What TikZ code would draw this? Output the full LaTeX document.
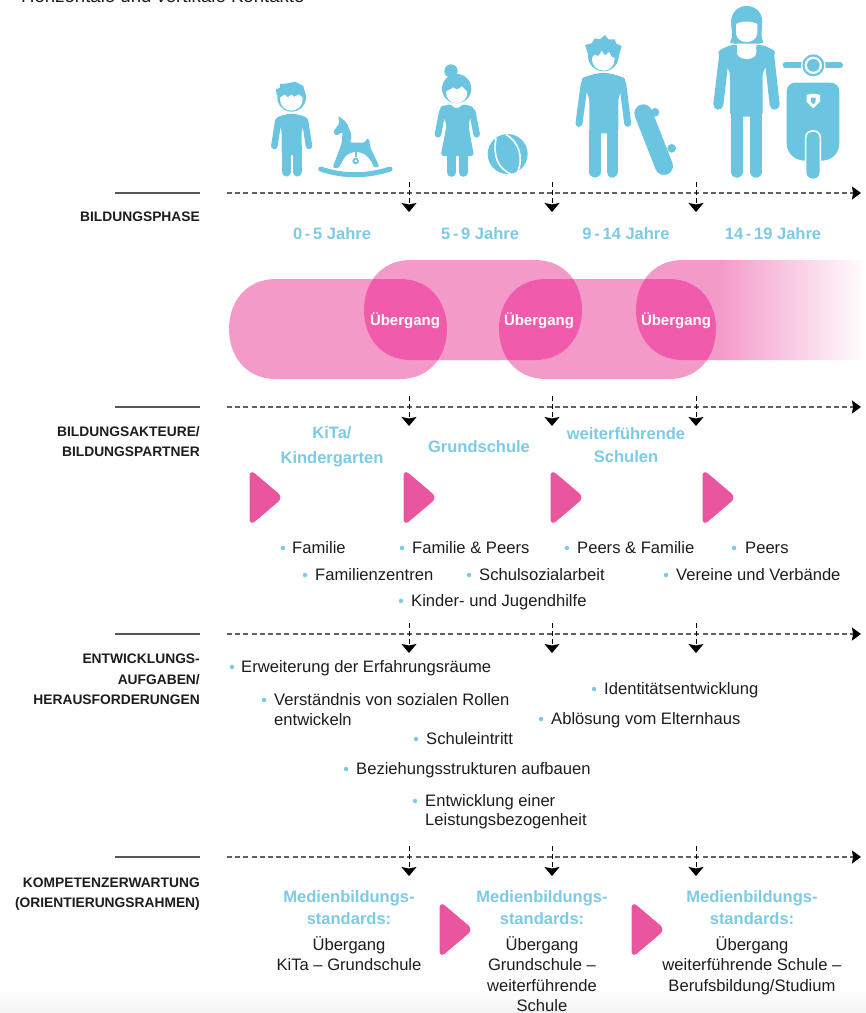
\documentclass[tikz,border=0pt]{standalone}
\usepackage{fontspec}
\setmainfont{Liberation Sans}
\usetikzlibrary{arrows.meta}
\definecolor{ink}{HTML}{1D1D1B}
\definecolor{skyb}{HTML}{6BC5E1}
\definecolor{skyt}{HTML}{7CCBE6}
\definecolor{lp}{HTML}{F49AC9}
\definecolor{dp}{HTML}{F05BAB}
\definecolor{ap}{HTML}{EA559F}
\tikzset{
  x=1pt,y=-1pt,
  txt/.style={inner sep=0pt,yshift=-2.5pt,text=ink,font=\fontsize{16.6}{18}\selectfont},
  lab/.style={inner sep=0pt,yshift=-2pt,anchor=mid east,text=ink,font=\fontsize{13.8}{14}\selectfont\bfseries},
  hd/.style={inner sep=0pt,yshift=-3pt,anchor=mid,text=skyt,font=\fontsize{16.5}{18}\selectfont\bfseries},
  ub/.style={inner sep=0pt,yshift=-3pt,anchor=mid,text=white,font=\fontsize{15}{16}\selectfont\bfseries},
  bul/.style={circle,fill=skyt,inner sep=0pt,minimum size=4.5pt},
  axisline/.style={draw=black!62,line width=1.2pt,dash pattern=on 5pt off 3.2pt,-{Stealth[width=13pt,length=9pt,inset=1pt,black]}},
  tickline/.style={draw=black,line width=1pt,dash pattern=on 5pt off 3pt,-{Stealth[width=15pt,length=9pt,inset=1.5pt,black]}},
  ruleline/.style={draw=ink!75,line width=1.2pt},
  parrow/.style={fill=ap,draw=ap,line width=1pt,rounded corners=6pt},
  blue/.style={fill=skyb},
  limb/.style={draw=skyb,line cap=round},
  zoomA/.style={shift={(250pt,0pt)},scale=0.33333},
  zoomB/.style={shift={(550pt,0pt)},scale=0.33333},
}
\newcommand{\bitem}[5]{% name, bullet x, text x, y, text
  \node[bul] (b#1) at (#2,#4) {};
  \node[txt,anchor=mid west] (t#1) at (#3,#4) {#5};
}
\newcommand{\parr}[2]{\fill[parrow] (#1-0.5,#2-3) -- (#1+32,#2+24.5) -- (#1-0.5,#2+52) -- cycle;}
\newcommand{\band}[4]{(#1+47,#3) -- (#2-47,#3) .. controls (#2-16,#3) and (#2,#3+24) .. (#2,#3+50) .. controls (#2,#4-24) and (#2-16,#4) .. (#2-47,#4) -- (#1+47,#4) .. controls (#1+16,#4) and (#1,#4-24) .. (#1,#3+50) .. controls (#1,#3+24) and (#1+16,#3) .. (#1+47,#3) -- cycle}
\newcommand{\lowA}{\band{229}{447}{279}{379}}
\newcommand{\lowB}{\band{499}{716}{279}{379}}
\newcommand{\topA}{\band{364}{582}{260}{360}}
\newcommand{\topB}{\band{636}{960}{260}{360}}
\begin{document}
\begin{tikzpicture}
\useasboundingbox (0,0) rectangle (866,1013);
\clip (0,0) rectangle (866,1013);
\fill[white] (0,0) rectangle (866,1013);
\shade[top color=white,bottom color=black!5] (0,990) rectangle (866,1013);

\node[inner sep=0pt,text=ink,anchor=base west,font=\fontsize{18.6}{20}\selectfont] (toptext) at (21,2) {Horizontale und vertikale Kontakte};

% transition bands
\fill[lp] \lowA;
\fill[lp] \lowB;
\fill[lp] \topA;
\begin{scope}
  \clip \topB;
  \fill[lp] (630,255) rectangle (720,365);
  \shade[left color=lp,right color=white] (720,255) rectangle (866,365);
\end{scope}
\begin{scope}
  \clip \topA;
  \fill[dp] \lowA;
  \fill[dp] \lowB;
\end{scope}
\begin{scope}
  \clip \topB;
  \fill[dp] \lowB;
\end{scope}
\node[ub] (ub1) at (405,320) {Übergang};
\node[ub] (ub2) at (539,320) {Übergang};
\node[ub] (ub3) at (676,320) {Übergang};

% axes
\foreach \n/\yy in {a/193,b/407,c/634,d/857}{
  \coordinate (rs\n) at (115,\yy);
  \coordinate (re\n) at (200,\yy);
  \coordinate (as\n) at (227,\yy);
  \coordinate (ae\n) at (861,\yy);
  \draw[ruleline] (rs\n) -- (re\n);
  \draw[axisline] (as\n) -- (ae\n);
  \foreach \x in {409,552,696}{
    \coordinate (ts\n\x) at (\x,\yy-11);
    \coordinate (te\n\x) at (\x,\yy+19);
    \draw[tickline] (ts\n\x) -- (te\n\x);
  }
}

% left labels
\node[lab] (l1) at (200,217) {BILDUNGSPHASE};
\node[lab] (l2) at (200,432) {BILDUNGSAKTEURE/};
\node[lab] (l3) at (200,452) {BILDUNGSPARTNER};
\node[lab] (l4) at (200,659) {ENTWICKLUNGS-};
\node[lab] (l5) at (200,680) {AUFGABEN/};
\node[lab] (l6) at (200,700) {HERAUSFORDERUNGEN};
\node[lab] (l7) at (200,883) {KOMPETENZERWARTUNG};
\node[lab] (l8) at (200,903) {(ORIENTIERUNGSRAHMEN)};

% ages
\node[hd] (a1) at (332,234) {0\,-\,5 Jahre};
\node[hd] (a2) at (480,234) {5\,-\,9 Jahre};
\node[hd] (a3) at (626,234) {9\,-\,14 Jahre};
\node[hd] (a4) at (773,234) {14\,-\,19 Jahre};

% institutions
\node[hd] (i1a) at (332,433) {KiTa/};
\node[hd] (i1b) at (332,458) {Kindergarten};
\node[hd] (i2) at (479,447) {Grundschule};
\node[hd] (i3a) at (626,434) {weiterführende};
\node[hd] (i3b) at (626,457) {Schulen};

\parr{250.5}{473}\parr{404.5}{473}\parr{551.5}{473}\parr{703.5}{473}
\parr{440.5}{905}\parr{632.5}{905}

% partners
\bitem{p1}{283}{292}{548}{Familie}
\bitem{p2}{402}{412}{548}{Familie \& Peers}
\bitem{p3}{567}{577}{548}{Peers \& Familie}
\bitem{p4}{734}{745}{548}{Peers}
\bitem{p5}{305}{315}{575}{Familienzentren}
\bitem{p6}{469}{479}{575}{Schulsozialarbeit}
\bitem{p7}{666}{676}{575}{Vereine und Verbände}
\bitem{p8}{401}{411}{601}{Kinder- und Jugendhilfe}

% tasks
\bitem{e1}{232}{241}{667}{Erweiterung der Erfahrungsräume}
\bitem{e2}{264}{274}{700}{Verständnis von sozialen Rollen}
\node[txt,anchor=mid west] (e2b) at (274,720) {entwickeln};
\bitem{e3}{594}{604}{689}{Identitätsentwicklung}
\bitem{e4}{541}{551}{719}{Ablösung vom Elternhaus}
\bitem{e5}{416}{426}{739}{Schuleintritt}
\bitem{e6}{346}{356}{769}{Beziehungsstrukturen aufbauen}
\bitem{e7}{415}{425}{801}{Entwicklung einer}
\node[txt,anchor=mid west] (e7b) at (425,820) {Leistungsbezogenheit};

% competences
\foreach \n/\x in {1/349,2/542,3/752}{
  \node[hd] (m\n a) at (\x,897) {Medienbildungs-};
  \node[hd] (m\n b) at (\x,919) {standards:};
  \node[txt,anchor=mid] (m\n c) at (\x,945) {Übergang};
}
\node[txt,anchor=mid] (m1d) at (349,965) {KiTa – Grundschule};
\node[txt,anchor=mid] (m2d) at (542,965) {Grundschule –};
\node[txt,anchor=mid] (m2e) at (542,986) {weiterführende};
\node[txt,anchor=mid] (m2f) at (542,1006) {Schule};
\node[txt,anchor=mid] (m3d) at (752,965) {weiterführende Schule –};
\node[txt,anchor=mid] (m3e) at (752,986) {Berufsbildung/Studium};

% ---------- icons: small child and rocking horse
\begin{scope}[zoomA]
  % boy
  \fill[blue] (125,292) circle (43);
  \fill[blue] (80,285) -- (78,268) -- (92,262) -- (90,252) -- (115,250) -- (135,245) -- (160,258) -- (167,290) -- cycle;
  \fill[white] (124,298) circle (34);
  \fill[blue] (90,292) -- (105,283) -- (113,291) -- (125,283) -- (133,290) -- (147,283) -- (158,292) -- (158,255) -- (90,255) -- cycle;
  \fill[blue,rounded corners=3pt] (105,344) -- (125,340) -- (145,344) -- (172,352) -- (155,390) -- (155,465) -- (95,465) -- (95,390) -- (78,352) -- cycle;
  \draw[limb,line width=6.5pt] (85,362) -- (73,438);
  \draw[limb,line width=6.5pt] (165,362) -- (177,438);
  \draw[limb,line width=9pt] (109,440) -- (109,516);
  \draw[limb,line width=9pt] (141,440) -- (141,516);
  % horse
  \fill[blue,rounded corners=1.5pt] (265,347) -- (290,368) -- (305,405) -- (300,428) -- (345,428) -- (350,415) -- (358,418) -- (360,440) -- (388,500) -- (372,503) .. controls (355,455) and (315,445) .. (285,470) -- (265,505) -- (248,503) -- (275,430) -- (278,395) -- (258,408) -- (250,395) -- (268,370) -- cycle;
  \draw[skyb,line width=1.8pt] (317,455) -- (317,472);
  \draw[skyb,line width=1.8pt,fill=white] (317,483) circle (7);
  \draw[limb,line width=5pt] (212,507) .. controls (280,530) and (350,530) .. (420,507);
  % girl
  \fill[blue] (603,213) circle (20);
  \fill[blue] (620,266) circle (44);
  \fill[white] (620,278) circle (32);
  \fill[blue] (586,275) -- (600,268) -- (610,262) -- (622,268) -- (636,258) -- (654,277) -- (654,240) -- (586,240) -- cycle;
  \fill[blue,rounded corners=3pt] (605,312) .. controls (612,325) and (628,325) .. (635,312) -- (672,320) -- (655,375) -- (672,468) -- (572,468) -- (590,375) -- (568,320) -- cycle;
  \draw[limb,line width=6.5pt] (577,335) -- (564,403);
  \draw[limb,line width=6.5pt] (667,335) -- (680,403);
  \draw[limb,line width=9pt] (604,465) -- (604,517);
  \draw[limb,line width=9pt] (640,465) -- (640,517);
  % ball
  \fill[blue] (773,462) circle (60);
  \draw[white,line width=1.6pt] (738,415) .. controls (728,470) and (745,505) .. (782,522);
  \draw[white,line width=1.6pt] (768,403) .. controls (805,425) and (822,470) .. (803,516);
\end{scope}

% ---------- icons: teenager with board, young adult with scooter
\begin{scope}[zoomB]
  % boy
  \fill[blue] (160,168) circle (46);
  \fill[blue] (115,165) -- (105,135) -- (125,130) -- (135,115) -- (150,118) -- (165,105) -- (175,118) -- (195,118) -- (198,130) -- (215,138) -- (206,170) -- cycle;
  \fill[white] (160,178) circle (34);
  \fill[blue] (124,172) -- (135,163) -- (145,168) -- (155,152) -- (165,166) -- (178,155) -- (185,170) -- (196,174) -- (196,135) -- (124,135) -- cycle;
  \fill[blue,rounded corners=3pt] (133,222) -- (160,218) -- (188,222) -- (228,235) -- (205,295) -- (205,400) -- (118,400) -- (118,295) -- (92,235) -- cycle;
  \draw[limb,line width=7pt] (103,250) -- (87,370);
  \draw[limb,line width=7pt] (218,250) -- (233,370);
  \draw[limb,line width=11.3pt] (135,395) -- (135,516);
  \draw[limb,line width=11.3pt] (187,395) -- (187,516);
  % board
  \fill[blue] (315,337) circle (13);
  \fill[blue] (365,445) circle (13);
  \draw[limb,line width=18pt] (280,340) -- (342,498);
  % woman
  \fill[blue] (540,128) .. controls (552,110) and (543,85) .. (543,65) .. controls (545,35) and (565,18) .. (590,18) .. controls (615,18) and (636,35) .. (637,65) .. controls (637,85) and (630,110) .. (640,128) .. controls (620,135) and (560,135) .. (540,128) -- cycle;
  \fill[white] (558,72) .. controls (575,62) and (605,62) .. (622,72) -- (622,100) .. controls (620,118) and (605,126) .. (590,126) .. controls (575,126) and (560,118) .. (558,100) -- cycle;
  \fill[blue,rounded corners=4pt] (500,155) -- (540,135) -- (640,135) -- (680,155) -- (638,215) -- (638,350) -- (540,350) -- (540,215) -- cycle;
  \fill[white] (560,131) .. controls (565,150) and (555,160) .. (567,170) .. controls (580,180) and (600,180) .. (613,170) .. controls (625,160) and (615,150) .. (620,131) -- cycle;
  \draw[limb,line width=10pt] (522,170) -- (505,314);
  \draw[limb,line width=10pt] (658,170) -- (674,314);
  \draw[limb,line width=12pt] (560,340) -- (560,515);
  \draw[limb,line width=12pt] (618,340) -- (618,515);
  % scooter
  \draw[limb,line width=6pt] (707,196) -- (870,196);
  \fill[white] (790,196) circle (37);
  \fill[blue] (790,196) circle (33);
  \fill[white] (790,196) circle (26);
  \fill[blue] (790,196) circle (19);
  \fill[blue] (738,248) -- (840,248) .. controls (858,248) and (868,258) .. (868,278) -- (868,430) .. controls (868,460) and (845,482) .. (815,482) -- (765,482) .. controls (735,482) and (710,460) .. (710,430) -- (710,278) .. controls (710,258) and (720,248) .. (738,248) -- cycle;
  \fill[white] (770,285) .. controls (783,280) and (797,280) .. (810,285) -- (810,305) -- (790,325) -- (770,305) -- cycle;
  \fill[blue] (783,293) -- (797,293) -- (797,305) -- (790,313) -- (783,305) -- cycle;
  \draw[white,line width=1.6pt,fill=skyb,rounded corners=6.5pt] (767,538) rectangle (811,393);
\end{scope}
\end{tikzpicture}
\end{document}
